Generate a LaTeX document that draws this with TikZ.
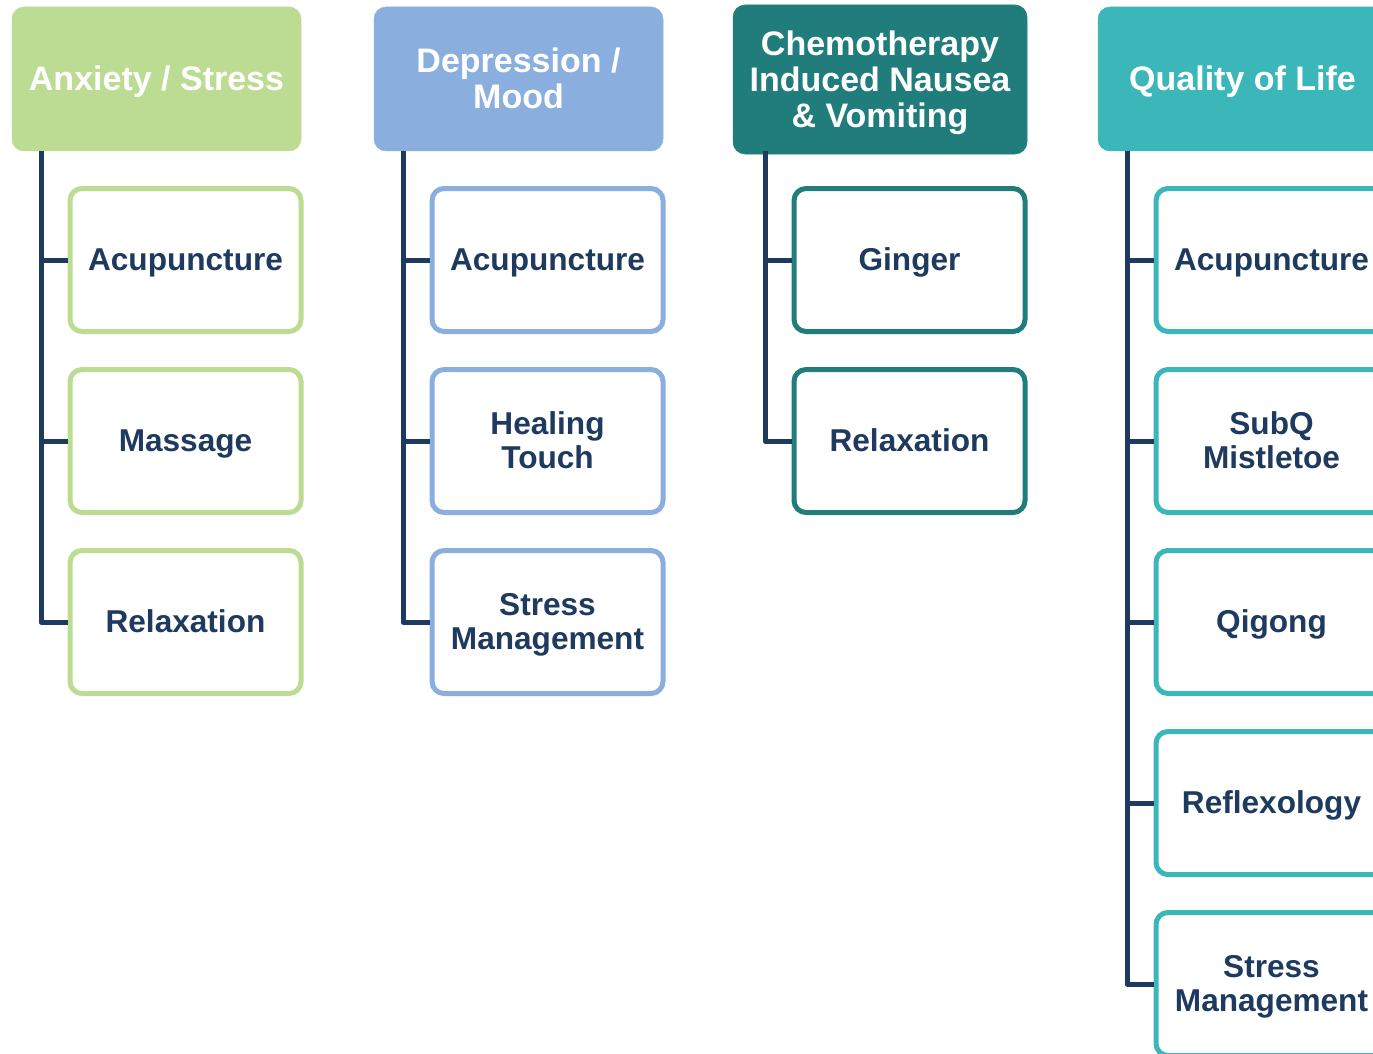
\documentclass[tikz,border=0pt]{standalone}
\usepackage{fontspec}
\setmainfont{Liberation Sans}
\definecolor{cgreen}{HTML}{BCDC93}
\definecolor{cblue}{HTML}{8AAFDE}
\definecolor{cdteal}{HTML}{217D7C}
\definecolor{cteal}{HTML}{3BB7BA}
\definecolor{navy}{HTML}{1E3A5F}
\tikzset{
  x=1pt, y=1pt,
  hdr/.style={fill=#1, draw=#1, line width=0.5pt, rounded corners=12pt, minimum width=289pt, minimum height=144pt,
    align=center, text=white, font=\bfseries\fontsize{34}{36}\selectfont, inner sep=0pt, text height=30.8pt, text depth=7.2pt},
  hdrtwo/.style={text height=66.8pt},
  hdrthree/.style={text height=102.8pt},
  item/.style={draw=#1, line width=5pt, fill=white, rounded corners=12pt, minimum width=231pt, minimum height=143pt,
    align=center, text=navy, font=\bfseries\fontsize{31.6}{34}\selectfont, inner sep=0pt, text height=28.6pt, text depth=6.7pt},
  itemtwo/.style={text height=62.6pt},
  spine/.style={draw=navy, line width=5pt, line join=round},
}
\begin{document}
\begin{tikzpicture}
\useasboundingbox (0,0) rectangle (1373,-1054);
\clip (0,0) rectangle (1373,-1054);
% headers
\node[hdr=cgreen] (h1) at (156.5,-79) {Anxiety / Stress};
\node[hdr=cblue, hdrtwo] (h2) at (518.5,-79) {Depression /\\Mood};
\node[hdr=cdteal, hdrthree, minimum width=294pt, minimum height=149pt] (h3) at (880,-79.5) {Chemotherapy\\Induced Nausea\\\& Vomiting};
\node[hdr=cteal] (h4) at (1242.5,-79) {Quality of Life};
% spine anchors
\coordinate (s1) at (41,-151);
\coordinate (s2) at (403,-151);
\coordinate (s3) at (765,-151);
\coordinate (s4) at (1127,-151);
% column 1
\node[item=cgreen] (a1) at (185.5,-260) {Acupuncture};
\node[item=cgreen] (a2) at (185.5,-441) {Massage};
\node[item=cgreen] (a3) at (185.5,-622) {Relaxation};
% column 2
\node[item=cblue] (b1) at (547.5,-260) {Acupuncture};
\node[item=cblue, itemtwo] (b2) at (547.5,-441) {Healing\\Touch};
\node[item=cblue, itemtwo] (b3) at (547.5,-622) {Stress\\Management};
% column 3
\node[item=cdteal] (c1) at (909.5,-260) {Ginger};
\node[item=cdteal] (c2) at (909.5,-441) {Relaxation};
% column 4
\node[item=cteal] (d1) at (1271.5,-260) {Acupuncture};
\node[item=cteal, itemtwo] (d2) at (1271.5,-441) {SubQ\\Mistletoe};
\node[item=cteal] (d3) at (1271.5,-622) {Qigong};
\node[item=cteal] (d4) at (1271.5,-803) {Reflexology};
\node[item=cteal, itemtwo] (d5) at (1271.5,-984) {Stress\\Management};
% connectors
\draw[spine] (s1) |- (a3.west);
\draw[spine] (s1 |- a1.west) -- (a1.west);
\draw[spine] (s1 |- a2.west) -- (a2.west);
\draw[spine] (s2) |- (b3.west);
\draw[spine] (s2 |- b1.west) -- (b1.west);
\draw[spine] (s2 |- b2.west) -- (b2.west);
\draw[spine] (s3) |- (c2.west);
\draw[spine] (s3 |- c1.west) -- (c1.west);
\draw[spine] (s4) |- (d5.west);
\draw[spine] (s4 |- d1.west) -- (d1.west);
\draw[spine] (s4 |- d2.west) -- (d2.west);
\draw[spine] (s4 |- d3.west) -- (d3.west);
\draw[spine] (s4 |- d4.west) -- (d4.west);
\end{tikzpicture}
\end{document}
